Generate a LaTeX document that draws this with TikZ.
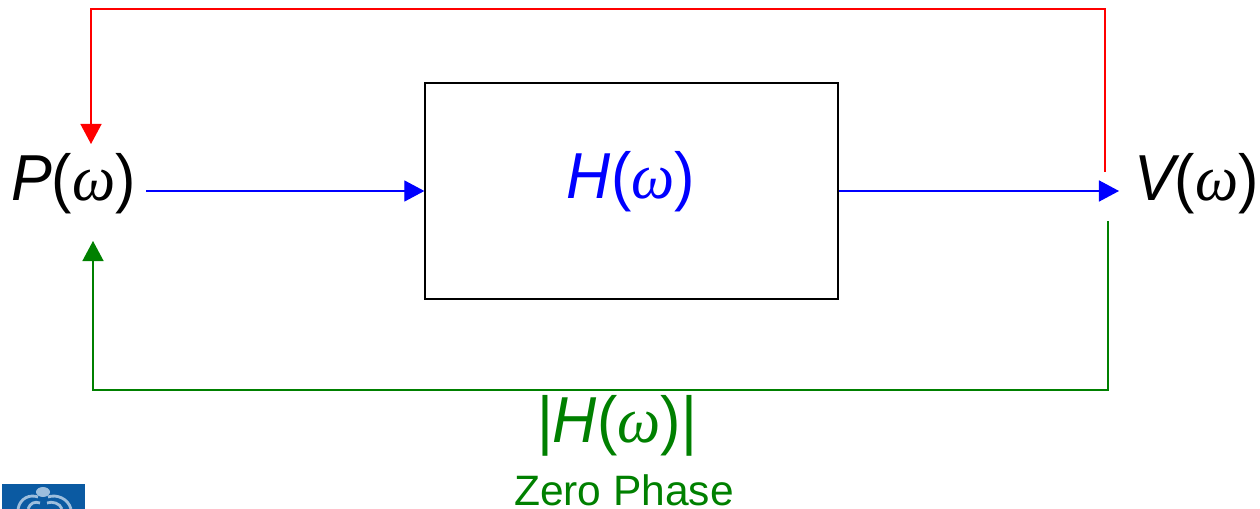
\documentclass[tikz,border=0pt]{standalone}
\usepackage{fontspec}
\setmainfont{Liberation Sans}
\newfontfamily\omegafont{Liberation Serif}
\usetikzlibrary{arrows.meta,calc,positioning}
\definecolor{sigCol}{HTML}{0000FF}
\definecolor{fbCol}{HTML}{FF0000}
\definecolor{magCol}{HTML}{008000}
\definecolor{logoCol}{HTML}{0B5AA2}
\definecolor{logoLt}{HTML}{9DBEDD}
\newcommand{\fnbig}{\fontsize{37}{40}\selectfont}
\newcommand{\fnsmall}{\fontsize{24.2}{28}\selectfont}
\newcommand{\om}{{\omegafont\itshape ω}}
\newcommand{\squeeze}[1]{\scalebox{0.94}[1]{#1}}
\newcommand{\Hw}{\textit{H}(\om)}
\tikzset{
  blockbox/.style={draw, line width=0.8pt, minimum width=8.26cm, minimum height=4.32cm, inner sep=0pt},
  symb/.style={font=\fnbig, inner sep=0pt},
  wire/.style={line width=0.7pt, -{Triangle[length=11.4pt,width=12pt]}},
  logoline/.style={logoLt, line width=1.6pt},
}
\begin{document}
\begin{tikzpicture}[x=0.02cm,y=-0.02cm]
  \useasboundingbox (0,0) rectangle (1260,509);
  \node[blockbox] (Hbox) at (631.5,191) {};
  \node[symb, text=sigCol] (Hlab) at (631,182) {\squeeze{\Hw}};
  \node[symb, inner xsep=5.7pt] (Pw) at (73.5,184) {\squeeze{\textit{P}(\om)}};
  \node[symb] (Vw) at (1196.5,184) {\squeeze{\textit{V}\kern-3pt(\om)}};
  \node[symb, text=magCol, anchor=north] (Mag) at (617,395) {\squeeze{|\Hw|}};
  \node[font=\fnsmall, text=magCol, inner sep=0pt] (Zero) at (624,490) {Zero Phase};

  \coordinate (Vin) at (1119,191);
  \coordinate (redout) at (1105,172);
  \coordinate (redin) at (91,144);
  \coordinate (grnout) at (1108,221);
  \coordinate (grnin) at (93,241);

  \draw[wire, sigCol] (Pw.east|-Hbox.west) -- (Hbox.west);
  \draw[wire, sigCol] (Hbox.east) -- (Vin);
  \draw[wire, fbCol] (redout) -- (1105,9) -- (91,9) -- (redin);
  \draw[wire, magCol] (grnout) -- (1108,390) -- (93,390) -- (grnin);

  % crest, cut off by the page edge
  \begin{scope}
    \clip (0,0) rectangle (1260,509);
    \fill[logoCol] (2,484) rectangle (85,515);
    \fill[logoLt] (43,492) ellipse (7 and 5);
    \draw[logoline] (18,509) .. controls (20,498) and (30,494) .. (38,497);
    \draw[logoline] (71,509) .. controls (68,498) and (56,494) .. (48,497);
    \draw[logoline] (28,509) .. controls (30,503) and (35,501) .. (40,503);
    \draw[logoline] (62,509) .. controls (60,503) and (52,501) .. (47,503);
  \end{scope}
\end{tikzpicture}
\end{document}
